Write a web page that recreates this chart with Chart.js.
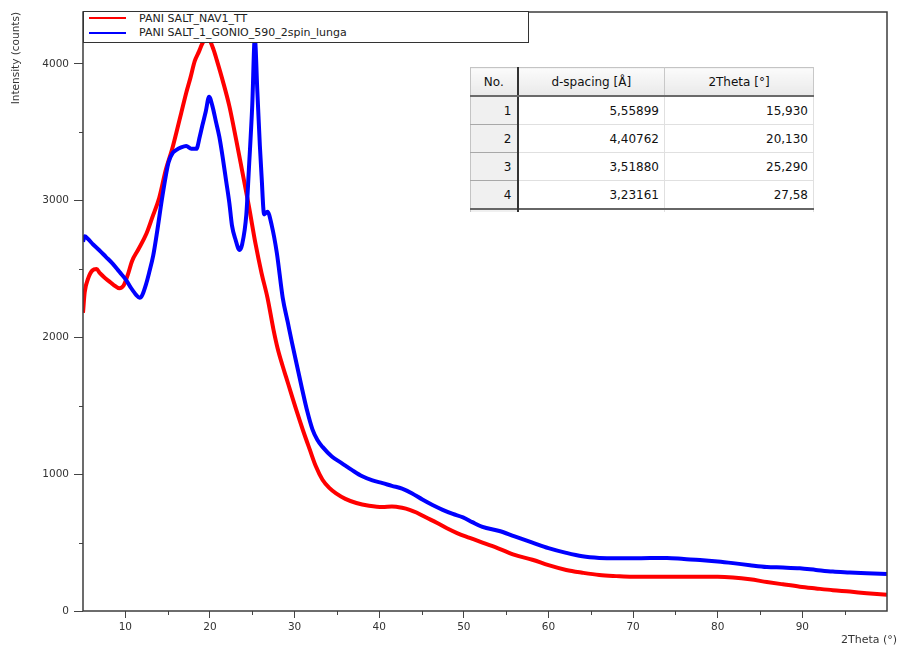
<!DOCTYPE html>
<html>
<head>
<meta charset="utf-8">
<script src="https://cdn.jsdelivr.net/npm/chart.js@4.4.0/dist/chart.umd.min.js"></script>
<style>
    body { margin: 0; background: #fff; }
    #caja { position: relative; width: 898px; height: 646px; overflow: hidden; }
    #grafico { position: absolute; left: 0; top: 0; }
    #leyenda {
        position: absolute; left: 83px; top: 11px; width: 446px; height: 32px;
        box-sizing: border-box; border: 1.5px solid #333; background: #fff;
        font: 11px "DejaVu Sans", sans-serif; color: #222;
    }
    .fila { position: absolute; left: 55px; white-space: nowrap; line-height: 13px; }
    .muestra { position: absolute; left: 5px; width: 37px; height: 2px; }
    #ejeX { position: absolute; left: 841px; top: 633px; font: 11px "DejaVu Sans", sans-serif; color: #333; white-space: nowrap; }
    #tabla {
        position: absolute; left: 470px; top: 67px; border-collapse: collapse; table-layout: fixed;
        font: 12px "DejaVu Sans", sans-serif; color: #111; background: #fff;
        border-top: 1px solid #c4c4c4; border-left: 1px solid #c4c4c4;
    }
    #tabla th {
        height: 27px; font-weight: normal; text-align: center; padding: 0;
        background: linear-gradient(#fbfbfb, #e9e9e9);
        border-right: 1px solid #c8c8c8; border-bottom: 2px solid #6a6a6a;
    }
    #tabla td {
        height: 27px; text-align: right; padding: 0 5px 0 0;
        border-right: 1px solid #e0e0e0; border-bottom: 1px solid #e0e0e0;
    }
    #tabla td.num { background: #f0f0f0; border-right: 2px solid #333; border-bottom: 1px solid #a8a8a8; }
    #tabla th.num { border-right: 2px solid #333; }
    #tabla tr.resto td { height: 2px; padding: 0; border-bottom: none; border-top: 2px solid #666; }
</style>
</head>
<body>
<div id="caja">
    <canvas id="grafico" width="898" height="646" style="width:898px;height:646px"></canvas>

    <div id="leyenda">
        <span class="muestra" style="top:5px;background:#ff0000"></span>
        <div class="fila" style="top:0px">PANI SALT_NAV1_TT</div>
        <span class="muestra" style="top:20px;background:#0000ff"></span>
        <div class="fila" style="top:14px">PANI SALT_1_GONIO_590_2spin_lunga</div>
    </div>

    <table id="tabla">
        <colgroup><col style="width:47px"><col style="width:147px"><col style="width:149px"></colgroup>
        <tbody id="cuerpo"></tbody>
    </table>

    <div id="ejeX">2Theta (°)</div>
</div>

<script>
// datos
const rojoX = [5.0, 5.2, 5.6, 6.1, 6.6, 7.0, 7.5, 8.1, 8.6, 9.3, 9.8, 10.3, 10.8, 11.5, 12.5, 13.2, 14.0, 14.8, 15.5, 16.0,
    16.6, 17.2, 17.7, 18.2, 18.7, 19.1, 19.5, 19.9, 20.4, 20.8, 21.5, 22.3, 23.1, 23.8, 24.6, 25.4, 26.1, 26.8, 27.5, 28.0,
    28.6, 29.0, 29.6, 30.2, 31.0, 31.8, 32.5, 33.3, 34.1, 34.9, 36.0, 37.3, 38.8, 40.4, 41.5, 42.7, 43.6, 44.4, 45.5, 46.8,
    48.0, 49.2, 50.7, 52.2, 54.2, 56.0, 58.1, 60.0, 62.1, 64.0, 66.0, 68.0, 69.9, 72.0, 74.0, 76.0, 77.9, 80.0, 81.8, 83.8,
    85.8, 87.7, 89.7, 91.6, 93.6, 95.6, 97.6, 100];
const rojoY = [2180, 2330, 2430, 2490, 2500, 2470, 2440, 2410, 2385, 2360, 2380, 2460, 2560, 2640, 2760, 2880, 3020, 3230, 3370, 3490,
    3640, 3790, 3900, 4020, 4090, 4150, 4180, 4175, 4110, 4030, 3880, 3690, 3445, 3220, 2960, 2680, 2470, 2290, 2060, 1920,
    1790, 1710, 1590, 1470, 1320, 1180, 1060, 960, 900, 860, 820, 790, 770, 760, 765, 755, 740, 720, 685, 645,
    605, 570, 535, 500, 455, 410, 375, 335, 300, 280, 263, 255, 250, 250, 250, 250, 250, 250, 245, 232,
    212, 195, 178, 165, 152, 142, 130, 118];

const azulX = [5.0, 5.2, 5.6, 6.2, 6.9, 7.7, 8.5, 9.3, 10.1, 10.7, 11.3, 11.7, 12.0, 12.5, 12.8, 13.3, 13.7, 14.4, 15.1, 15.6,
    16.0, 16.6, 17.2, 17.8, 18.4, 18.8, 19.1, 19.5, 19.9, 20.3, 20.7, 21.1, 21.5, 21.9, 22.3, 22.6, 23.0, 23.5, 23.8, 24.3,
    24.6, 25.0, 25.3, 25.6, 25.9, 26.1, 26.4, 26.8, 27.3, 27.9, 28.6, 29.2, 29.7, 30.3, 30.9, 31.5, 32.1, 32.7, 33.3, 34.4,
    35.6, 36.8, 38.0, 39.2, 40.4, 41.5, 42.7, 43.9, 45.1, 46.3, 47.5, 48.7, 49.9, 51.0, 52.2, 54.2, 56.0, 58.1, 60.0, 62.1,
    64.0, 66.0, 68.0, 69.9, 72.0, 74.0, 76.0, 77.9, 80.0, 81.8, 83.8, 85.8, 87.7, 89.7, 91.6, 93.6, 95.6, 97.6, 100];
const azulY = [2700, 2740, 2720, 2680, 2640, 2590, 2540, 2480, 2420, 2360, 2310, 2290, 2310, 2400, 2470, 2600, 2750, 3040, 3280, 3350,
    3370, 3390, 3400, 3380, 3380, 3470, 3550, 3650, 3760, 3690, 3580, 3470, 3320, 3150, 2980, 2820, 2720, 2640, 2680, 2900,
    3230, 3700, 4190, 3800, 3400, 3180, 2900, 2920, 2820, 2620, 2290, 2110, 1960, 1790, 1620, 1460, 1330, 1250, 1200, 1130,
    1080, 1030, 985, 955, 935, 915, 895, 860, 815, 775, 740, 710, 685, 650, 615, 585, 545, 500, 460, 425,
    400, 388, 385, 385, 388, 388, 380, 373, 362, 350, 335, 322, 318, 312, 300, 288, 282, 276, 270];

const series = ['PANI SALT_NAV1_TT', 'PANI SALT_1_GONIO_590_2spin_lunga'];

// ticks de los ejes
const ticksX = [10, 20, 30, 40, 50, 60, 70, 80, 90];
const menoresX = [15, 25, 35, 45, 55, 65, 75, 85, 95];
const ticksY = [0, 1000, 2000, 3000, 4000];
const menoresY = [500, 1500, 2500, 3500];

// tabla de picos
const picoNo = [1, 2, 3, 4];
const picoD = ['5,55899', '4,40762', '3,51880', '3,23161'];
const pico2T = ['15,930', '20,130', '25,290', '27,58'];

// armar la tabla
let html = '<tr><th class="num">No.</th><th>d-spacing [Å]</th><th>2Theta [°]</th></tr>';
for (let i = 0; i < picoNo.length; i++) {
    html += `<tr><td class="num">${picoNo[i]}</td><td>${picoD[i]}</td><td>${pico2T[i]}</td></tr>`;
}
html += '<tr class="resto"><td class="num"></td><td></td><td></td></tr>';
document.getElementById('cuerpo').innerHTML = html;

function puntos(xs, ys) {
    return xs.map((x, i) => ({ x: x, y: ys[i] }));
}

// marco del grafico + ticks menores
const marco = {
    id: 'marco',
    afterDraw(chart) {
        const c = chart.ctx;
        const a = chart.chartArea;
        const sx = chart.scales.x;
        const sy = chart.scales.y;
        c.save();
        c.strokeStyle = '#444';
        c.lineWidth = 1;
        c.beginPath();
        menoresX.forEach(v => {
            const px = Math.round(sx.getPixelForValue(v)) + 0.5;
            c.moveTo(px, a.bottom);
            c.lineTo(px, a.bottom + 4);
        });
        menoresY.forEach(v => {
            const py = Math.round(sy.getPixelForValue(v)) + 0.5;
            c.moveTo(a.left - 4, py);
            c.lineTo(a.left, py);
        });
        c.stroke();
        c.lineWidth = 1.5;
        c.strokeStyle = '#3c3c3c';
        c.strokeRect(a.left, a.top, a.right - a.left, a.bottom - a.top);
        c.restore();
    }
};

const ctx = document.getElementById('grafico').getContext('2d');
const grafico = new Chart(ctx, {
    type: 'line',
    data: {
        datasets: [{
            label: series[0],
            data: puntos(rojoX, rojoY),
            borderColor: '#ff0000',
            borderWidth: 4,
            pointRadius: 0,
            cubicInterpolationMode: 'monotone',
            order: 2
        }, {
            label: series[1],
            data: puntos(azulX, azulY),
            borderColor: '#0000ff',
            borderWidth: 4,
            pointRadius: 0,
            cubicInterpolationMode: 'monotone',
            order: 1
        }]
    },
    options: {
        responsive: false,
        animation: false,
        layout: { padding: { top: 12, right: 11, left: 0, bottom: 0 } },
        plugins: { legend: { display: false }, tooltip: { enabled: false } },
        scales: {
            x: {
                type: 'linear',
                min: 5,
                max: 100,
                afterFit(s) { s.height = 35; },
                afterBuildTicks(s) { s.ticks = ticksX.map(v => ({ value: v })); },
                border: { display: false },
                grid: { drawOnChartArea: false, drawTicks: true, tickLength: 7, color: '#444' },
                ticks: {
                    maxRotation: 0,
                    autoSkip: false,
                    padding: 3,
                    color: '#333',
                    font: { family: 'DejaVu Sans', size: 10.5 },
                    callback: v => String(v)
                }
            },
            y: {
                min: 0,
                max: 4380,
                afterFit(s) { s.width = 83; },
                afterBuildTicks(s) { s.ticks = ticksY.map(v => ({ value: v })); },
                border: { display: false },
                grid: { drawOnChartArea: false, drawTicks: true, tickLength: 9, color: '#444' },
                ticks: {
                    autoSkip: false,
                    padding: 5,
                    color: '#333',
                    font: { family: 'DejaVu Sans', size: 10.5 },
                    callback: v => String(v)
                },
                title: {
                    display: true,
                    text: 'Intensity (counts)',
                    align: 'end',
                    color: '#333',
                    padding: { top: 10, bottom: 0 },
                    font: { family: 'DejaVu Sans', size: 10.5 }
                }
            }
        }
    },
    plugins: [marco]
});
</script>
</body>
</html>
